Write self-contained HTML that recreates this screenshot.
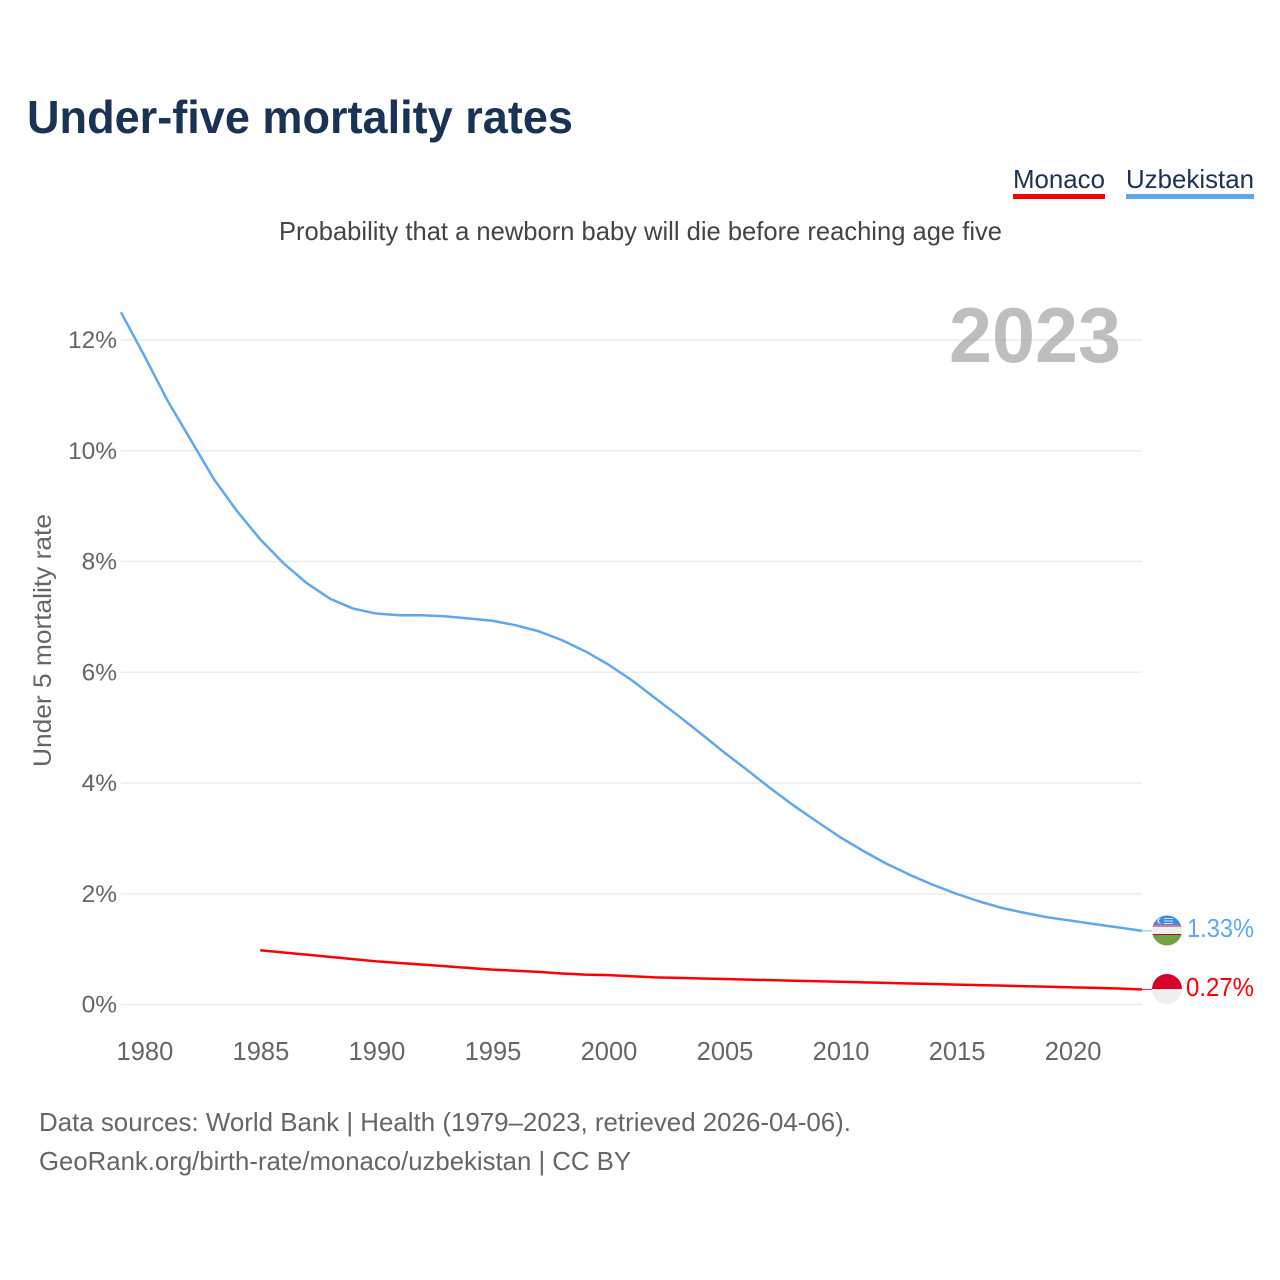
<!DOCTYPE html>
<html lang="en">
<head>
<meta charset="utf-8">
<title>Under-five mortality rates</title>
<style>
html,body{margin:0;padding:0;background:#fff;width:1280px;height:1280px;overflow:hidden}
svg{display:block}
text{font-family:"Liberation Sans",sans-serif}
</style>
</head>
<body>
<svg id="chart" width="1280" height="1280" viewBox="0 0 1280 1280" xmlns="http://www.w3.org/2000/svg">
  <defs>
    <clipPath id="clip-uz"><circle cx="1167" cy="930.5" r="15"/></clipPath>
    <clipPath id="clip-mc"><circle cx="1167" cy="989" r="15"/></clipPath>
  </defs>
  <rect width="1280" height="1280" fill="#fff"/>
  <text x="27" y="133" font-size="46" font-weight="700" fill="#1a3355" textLength="546" lengthAdjust="spacingAndGlyphs">Under-five mortality rates</text>
  <g>
    <text x="1013" y="188" font-size="26" fill="#1a3355" textLength="92" lengthAdjust="spacingAndGlyphs">Monaco</text>
    <rect x="1013" y="194" width="92" height="5" fill="#ff0000"/>
  </g>
  <g>
    <text x="1126" y="188" font-size="26" fill="#1a3355" textLength="128" lengthAdjust="spacingAndGlyphs">Uzbekistan</text>
    <rect x="1126" y="194" width="128" height="5" fill="#5fa8f0"/>
  </g>
  <text x="279" y="240" font-size="26" fill="#444" textLength="723" lengthAdjust="spacingAndGlyphs">Probability that a newborn baby will die before reaching age five</text>
  <g id="grid"></g>
  <text x="949" y="362" font-size="78" font-weight="700" fill="#888" fill-opacity="0.55" textLength="172" lengthAdjust="spacingAndGlyphs">2023</text>
  <g id="yticks"></g>
  <g id="xticks"></g>
  <text transform="translate(51,767) rotate(-90)" font-size="25" fill="#666" textLength="253" lengthAdjust="spacingAndGlyphs">Under 5 mortality rate</text>
  <g id="lines"></g>
  <g clip-path="url(#clip-uz)">
    <rect x="1152" y="915" width="30" height="10.5" fill="#3d8ae6"/>
    <rect x="1152" y="925" width="30" height="10" fill="#f0f0f0"/>
    <rect x="1152" y="925.5" width="30" height="1" fill="#d80027"/>
    <rect x="1152" y="934" width="30" height="1" fill="#d80027"/>
    <rect x="1152" y="935" width="30" height="11" fill="#6da544"/>
    <circle cx="1160" cy="921" r="2.6" fill="#f0f0f0"/>
    <circle cx="1161.2" cy="921" r="2.3" fill="#3d8ae6"/>
    <rect x="1164" y="918" width="9" height="1" fill="#cfe2f8"/>
    <rect x="1164" y="920.5" width="9" height="1" fill="#cfe2f8"/>
    <rect x="1164" y="923" width="9" height="1" fill="#cfe2f8"/>
  </g>
  <g clip-path="url(#clip-mc)">
    <rect x="1152" y="974" width="30" height="15" fill="#d80027"/>
    <rect x="1152" y="989" width="30" height="15" fill="#efefef"/>
  </g>
  <text x="1187" y="937" font-size="26" fill="#5fa8f0" textLength="67" lengthAdjust="spacingAndGlyphs">1.33%</text>
  <text x="1186" y="996" font-size="26" fill="#ff0000" textLength="68" lengthAdjust="spacingAndGlyphs">0.27%</text>
  <text x="39" y="1131" font-size="26" fill="#666" textLength="812" lengthAdjust="spacingAndGlyphs">Data sources: World Bank | Health (1979–2023, retrieved 2026-04-06).</text>
  <text x="39" y="1170" font-size="26" fill="#666" textLength="592" lengthAdjust="spacingAndGlyphs">GeoRank.org/birth-rate/monaco/uzbekistan | CC BY</text>
</svg>
<script>
const yearsUzbekistan = [1979,1980,1981,1982,1983,1984,1985,1986,1987,1988,1989,1990,1991,1992,1993,1994,1995,1996,1997,1998,1999,2000,2001,2002,2003,2004,2005,2006,2007,2008,2009,2010,2011,2012,2013,2014,2015,2016,2017,2018,2019,2020,2021,2022,2023];
const valuesUzbekistan = [12.5,11.72,10.91,10.2,9.49,8.91,8.4,7.97,7.61,7.33,7.15,7.06,7.03,7.03,7.01,6.97,6.93,6.85,6.74,6.58,6.38,6.14,5.86,5.54,5.22,4.89,4.55,4.23,3.9,3.59,3.3,3.02,2.77,2.54,2.34,2.16,2.0,1.86,1.74,1.65,1.57,1.51,1.45,1.39,1.33];
const yearsMonaco = [1985,1986,1987,1988,1989,1990,1991,1992,1993,1994,1995,1996,1997,1998,1999,2000,2001,2002,2003,2004,2005,2006,2007,2008,2009,2010,2011,2012,2013,2014,2015,2016,2017,2018,2019,2020,2021,2022,2023];
const valuesMonaco = [0.98,0.94,0.9,0.86,0.82,0.78,0.75,0.72,0.69,0.66,0.63,0.61,0.59,0.56,0.54,0.53,0.51,0.49,0.48,0.47,0.46,0.45,0.44,0.43,0.42,0.41,0.4,0.39,0.38,0.37,0.36,0.35,0.34,0.33,0.32,0.31,0.3,0.29,0.27];
const yTickValues = [0,2,4,6,8,10,12];
const xTickValues = [1980,1985,1990,1995,2000,2005,2010,2015,2020];

const NS = 'http://www.w3.org/2000/svg';
function xScale(year){ return 121 + (year - 1979) * (1142 - 121) / 44; }
function yScale(v){ return 1004.5 - v * (1004.5 - 340) / 12; }
function make(tag, attrs, parent){
  const el = document.createElementNS(NS, tag);
  for (const k in attrs) el.setAttribute(k, attrs[k]);
  parent.appendChild(el);
  return el;
}
const grid = document.getElementById('grid');
const yticks = document.getElementById('yticks');
const xticks = document.getElementById('xticks');
const lines = document.getElementById('lines');

yTickValues.forEach(function(v){
  const gl = make('line', {x1:121, x2:1142, y1:yScale(v), y2:yScale(v), stroke:'#ececec', 'stroke-width':1.6}, grid);
  
  
  const t = make('text', {x:117, y:yScale(v)+8, 'text-anchor':'end', 'font-size':24.5, fill:'#666'}, yticks);
  t.textContent = v + '%';
  
  
});
xTickValues.forEach(function(y){
  const t = make('text', {x:xScale(y)+0.7, y:1060, 'text-anchor':'middle', 'font-size':25.5, fill:'#666'}, xticks);
  t.textContent = y;
  
  
});
function pathFrom(years, values){
  return years.map(function(y, i){
    return (i ? 'L' : 'M') + xScale(y).toFixed(2) + ' ' + yScale(values[i]).toFixed(2);
  }).join(' ');
}
const uzLine = make('path', {d:pathFrom(yearsUzbekistan, valuesUzbekistan), fill:'none', stroke:'#5fa8f0', 'stroke-width':2.5, 'stroke-linejoin':'round'}, lines);


const mcLine = make('path', {d:pathFrom(yearsMonaco, valuesMonaco), fill:'none', stroke:'#ff0000', 'stroke-width':2.5, 'stroke-linejoin':'round'}, lines);


const lastUz = valuesUzbekistan[valuesUzbekistan.length - 1];
const lastMc = valuesMonaco[valuesMonaco.length - 1];
const uzConn = make('line', {x1:xScale(2023), y1:yScale(lastUz), x2:1152, y2:yScale(lastUz), stroke:'#5fa8f0', 'stroke-width':0.8}, lines);


const mcConn = make('line', {x1:xScale(2023), y1:yScale(lastMc), x2:1152, y2:yScale(lastMc), stroke:'#ff0000', 'stroke-width':0.8}, lines);


</script>
</body>
</html>
